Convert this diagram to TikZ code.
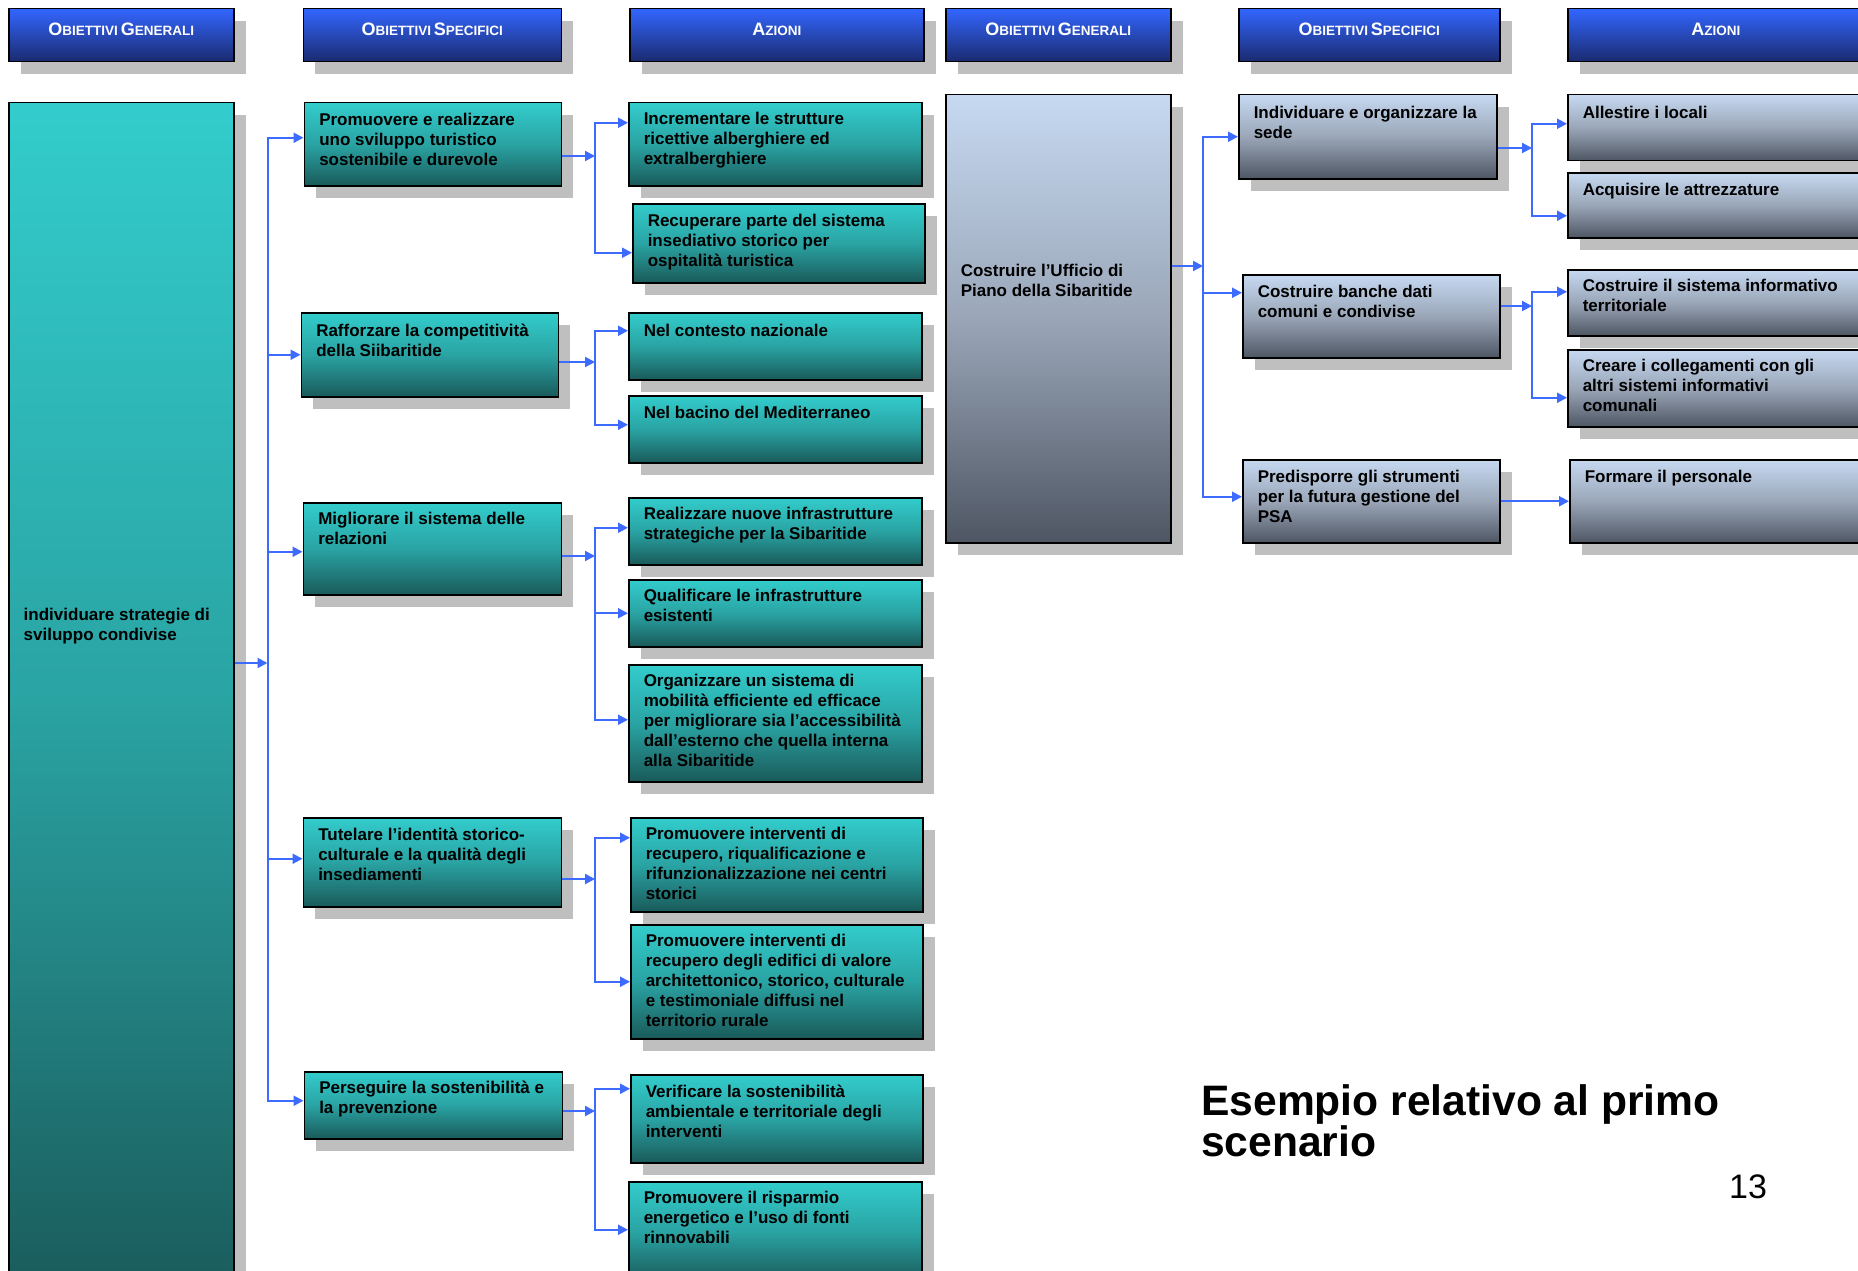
\documentclass[tikz,border=0pt]{standalone}
\usepackage{fontspec}
\setmainfont{Liberation Sans}
\usepackage{xcolor}
\usepackage{tikz}
\usetikzlibrary{arrows.meta,positioning,shadows}

\definecolor{acquatop}{HTML}{33CCCC}
\definecolor{acquamid}{HTML}{2AA3A3}
\definecolor{acquabot}{HTML}{1A5A5A}
\definecolor{blutop}{HTML}{3366FF}
\definecolor{blubot}{HTML}{1A2A6E}
\definecolor{grigiotop}{HTML}{C6D9F1}
\definecolor{grigiomid}{HTML}{9AA6B8}
\definecolor{grigiobot}{HTML}{4E5663}
\definecolor{ombra}{HTML}{BFBFBF}
\definecolor{linea}{HTML}{3D6BFF}

% fake small caps for the column titles
\newcommand{\maiusc}[2]{{\fontsize{18}{20}\selectfont #1}{\fontsize{13.5}{20}\selectfont #2}}

\tikzset{
  ombreggiata/.style={drop shadow={shadow xshift=12pt, shadow yshift=-12pt, fill=ombra, opacity=1}},
  testata/.style={ombreggiata, draw=black, line width=1.5pt, anchor=north west, inner sep=0pt,
    top color=blutop, bottom color=blubot, text=white, font=\bfseries,
    minimum height=53pt, text height=12pt, text depth=11pt},
  cella/.style n args={3}{ombreggiata, draw=black, line width=1.5pt, anchor=north west, inner sep=0pt,
    font=\fontsize{17}{20}\selectfont\bfseries,
    execute at begin node={\begin{minipage}[t][#2pt][t]{#1pt}\vspace*{#3pt}\raggedright\leftskip=15pt\strut},
    execute at end node={\end{minipage}}},
  acqua/.style={top color=acquatop, bottom color=acquabot, middle color=acquamid},
  grigioblu/.style={top color=grigiotop, bottom color=grigiobot, middle color=grigiomid},
  freccia/.style={draw=linea, line width=2pt, -{Triangle[length=10pt,width=10pt]}},
}

\begin{document}
\begin{tikzpicture}[x=1pt,y=-1pt]
\def\busA{267.5}   % bus from the general objective, left half
\def\busB{595}     % buses towards the actions, left half
\def\busC{1203}    % bus from the general objective, right half
\def\busD{1532}    % buses towards the actions, right half

\useasboundingbox (0,0) rectangle (1858,1271);
\clip (0,0) rectangle (1858,1271);
\fill[white] (0,0) rectangle (1858,1271);

% ================= column titles =================
\node[testata, minimum width=225pt] (t1) at (8,8) {\maiusc{O}{BIETTIVI} \maiusc{G}{ENERALI}};
\node[testata, minimum width=258pt] (t2) at (302.5,8) {\maiusc{O}{BIETTIVI} \maiusc{S}{PECIFICI}};
\node[testata, minimum width=294pt] (t3) at (629,8) {\maiusc{A}{ZIONI}};
\node[testata, minimum width=225pt] (t4) at (945,8) {\maiusc{O}{BIETTIVI} \maiusc{G}{ENERALI}};
\node[testata, minimum width=261pt] (t5) at (1238,8) {\maiusc{O}{BIETTIVI} \maiusc{S}{PECIFICI}};
\node[testata, minimum width=296pt] (t6) at (1567,8) {\maiusc{A}{ZIONI}};

% ================= left half: strategie di sviluppo =================
\node[cella={225}{1200}{504}, acqua] (g1) at (8,102) {individuare strategie di\\sviluppo condivise};

% ---------- obiettivi specifici ----------
\node[cella={257}{83}{9}, acqua] (s1) at (303.5,102) {Promuovere e realizzare\\uno sviluppo turistico\\sostenibile e durevole};
\node[cella={257}{84}{10}, acqua] (s2) at (300.5,312) {Rafforzare la competitività\\della Siibaritide};
\node[cella={258}{92}{8}, acqua] (s3) at (302.5,502) {Migliorare il sistema delle\\relazioni};
\node[cella={258}{89}{9}, acqua] (s4) at (302.5,817) {Tutelare l’identità storico-\\culturale e la qualità degli\\insediamenti};
\node[cella={258}{67}{8}, acqua] (s5) at (303.5,1071) {Perseguire la sostenibilità e\\la prevenzione};

% ---------- azioni ----------
\node[cella={293}{83}{8}, acqua] (a1) at (628,102) {Incrementare le strutture\\ricettive alberghiere ed\\extralberghiere};
\node[cella={292}{79}{9}, acqua] (a2) at (632,203) {Recuperare parte del sistema\\insediativo storico per\\ospitalità turistica};
\node[cella={293}{67}{10}, acqua] (a3) at (628,312) {Nel contesto nazionale};
\node[cella={293}{67}{9}, acqua] (a4) at (628,395) {Nel bacino del Mediterraneo};
\node[cella={293}{67}{8}, acqua] (a5) at (628,497) {Realizzare nuove  infrastrutture\\strategiche per la Sibaritide};
\node[cella={293}{67}{8}, acqua] (a6) at (628,579) {Qualificare le infrastrutture\\esistenti};
\node[cella={293}{117}{8}, acqua] (a7) at (628,664) {Organizzare un sistema di\\mobilità efficiente ed efficace\\per migliorare sia l’accessibilità\\dall’esterno che quella interna\\alla Sibaritide};
\node[cella={292}{94}{8}, acqua] (a8) at (630,817) {Promuovere interventi di\\recupero, riqualificazione e\\rifunzionalizzazione nei centri\\storici};
\node[cella={292}{114}{8}, acqua] (a9) at (630,924) {Promuovere interventi di\\recupero degli edifici di valore\\architettonico, storico, culturale\\e testimoniale diffusi nel\\territorio rurale};
\node[cella={292}{88}{9}, acqua] (a10) at (630,1074) {Verificare la sostenibilità\\ambientale e territoriale degli\\interventi};
\node[cella={293}{100}{8}, acqua] (a11) at (628,1181) {Promuovere il risparmio\\energetico e l’uso di fonti\\rinnovabili};

% ---------- connectors ----------
\coordinate (b1) at (\busA,663);
\draw[freccia] (g1.east |- b1) -- (b1);
\foreach \n/\dy in {s1/6.5, s2/0, s3/-3, s4/3.5, s5/4.5}
  { \draw[freccia] (b1) |- ([yshift=\dy pt]\n.west); }

\coordinate (c1) at (\busB,156);
\coordinate (c2) at (\busB,362);
\coordinate (c3) at (\busB,556);
\coordinate (c4) at (\busB,879);
\coordinate (c5) at (\busB,1111);
\foreach \n in {1,...,5}
  { \draw[freccia] (s\n.east |- c\n) -- (c\n); }
\foreach \c/\n/\dy in {c1/a1/21.5, c1/a2/-9.5, c2/a3/15.5, c2/a4/4.5, c3/a5/3.5, c3/a6/0,
                       c3/a7/3.5, c4/a8/27, c4/a9/0, c5/a10/30, c5/a11/2}
  { \draw[freccia] (\c) |- ([yshift=\dy pt]\n.west); }

% ================= right half: ufficio di piano =================
\node[cella={225}{448}{168}, grigioblu] (g2) at (945,94) {Costruire l’Ufficio di\\Piano della Sibaritide};

% ---------- obiettivi specifici ----------
\node[cella={258}{84}{10}, grigioblu] (s6) at (1238,94) {Individuare e organizzare la\\sede};
\node[cella={257}{83}{9}, grigioblu] (s7) at (1242,274) {Costruire banche dati\\comuni e condivise};
\node[cella={257}{83}{9}, grigioblu] (s8) at (1242,459) {Predisporre gli strumenti\\per la futura gestione del\\PSA};

% ---------- azioni ----------
\node[cella={300}{66}{10}, grigioblu] (a12) at (1567,94) {Allestire i locali};
\node[cella={300}{65}{9}, grigioblu] (a13) at (1567,172) {Acquisire le attrezzature};
\node[cella={300}{66}{8}, grigioblu] (a14) at (1567,269) {Costruire il sistema informativo\\territoriale};
\node[cella={300}{77}{8}, grigioblu] (a15) at (1567,349) {Creare i collegamenti con gli\\altri sistemi informativi\\comunali};
\node[cella={300}{83}{9}, grigioblu] (a16) at (1569,459) {Formare il personale};

% ---------- connectors ----------
\coordinate (b2) at (\busC,266);
\draw[freccia] (g2.east |- b2) -- (b2);
\foreach \n/\dy in {s6/0, s7/23.5, s8/4.5}
  { \draw[freccia] (b2) |- ([yshift=\dy pt]\n.west); }

\coordinate (c6) at (\busD,148);
\coordinate (c7) at (\busD,306);
\draw[freccia] (s6.east |- c6) -- (c6);
\draw[freccia] (s7.east |- c7) -- (c7);
\foreach \c/\n/\dy in {c6/a12/4, c6/a13/-10.5, c7/a14/11, c7/a15/-9.5}
  { \draw[freccia] (\c) |- ([yshift=\dy pt]\n.west); }
\draw[freccia] (s8.east) -- (a16.west);

% ================= caption and page number =================
\node[anchor=north west, inner sep=0pt, align=left, font=\fontsize{42.6}{41}\selectfont\bfseries] (esempio) at (1201,1084) {Esempio relativo al primo\\scenario};
\node[anchor=base west, inner sep=0pt, font=\fontsize{34}{40}\selectfont] (pagina) at (1729,1198) {13};

\end{tikzpicture}
\end{document}
